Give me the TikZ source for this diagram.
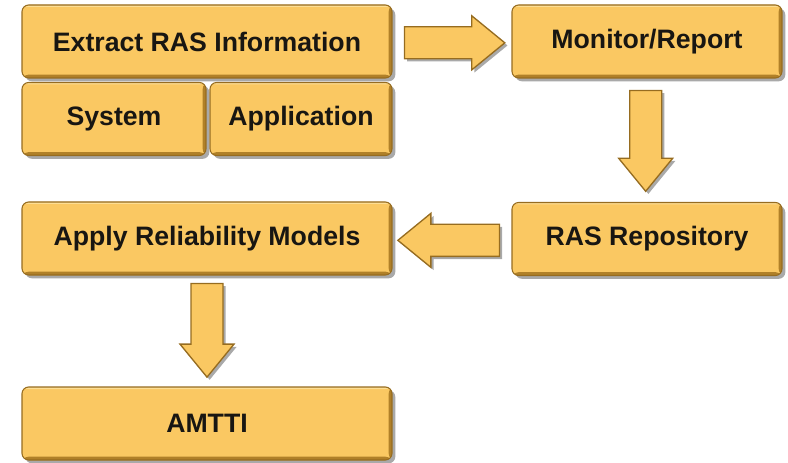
\documentclass[tikz,border=0pt]{standalone}
\usepackage{fontspec}
\setmainfont{Liberation Sans}
\usepackage{xcolor}
\usepackage{tikz}
\usetikzlibrary{calc,shadows}
\definecolor{boxfill}{RGB}{250,200,98}
\definecolor{boxrim}{RGB}{150,108,32}
\definecolor{boxshade}{RGB}{176,128,40}
\definecolor{boxlight}{RGB}{253,222,148}
\definecolor{inktext}{RGB}{24,22,18}
\newcommand{\fatarrow}[3]{%   block arrow: tail #1, tip #2, pointing at angle #3
  \path[fatarr, shift={(#1)}, rotate=#3] let \p1=($(#2)-(#1)$), \n1={veclen(\x1,\y1)} in
    (0,-12pt) -- ({\n1-24.75pt},-12pt) -- ({\n1-24.75pt},-20.25pt) -- (\n1,0)
    -- ({\n1-24.75pt},20.25pt) -- ({\n1-24.75pt},12pt) -- (0,12pt) -- cycle;}

\begin{document}
\begin{tikzpicture}[x=0.75pt, y=0.75pt,
    box/.style={draw=boxrim, line width=0.8pt, fill=boxfill, rounded corners=5pt,
      minimum height=54.75pt, inner sep=0pt, text=inktext,
      font=\fontsize{20}{24}\selectfont\bfseries,
      path picture={%
        \fill[boxlight] (path picture bounding box.north west) rectangle ([yshift=-1.5pt]path picture bounding box.north east);
        \fill[boxshade] (path picture bounding box.south west) rectangle ([yshift=2.5pt]path picture bounding box.south east);
        \fill[boxshade] ([xshift=-2.5pt]path picture bounding box.south east) rectangle (path picture bounding box.north east);},
      drop shadow={shadow xshift=2.5pt, shadow yshift=-2.5pt, opacity=0.45, fill=black!75}},
    wide/.style={box, minimum width=277.5pt},
    mid/.style={box, minimum width=202.5pt},
    fatarr/.style={fill=boxfill, draw=boxrim, line width=1pt, line join=miter,
      drop shadow={shadow xshift=2pt, shadow yshift=-2pt, opacity=0.45, fill=black!75}}]
\useasboundingbox (0,0) rectangle (788,-463);

% ---- left column
\node[wide] (extract) at (207,-41.5) {Extract RAS Information};
\node[box, minimum width=138pt] (system) at (114,-119) {System};
\node[box, minimum width=136.5pt] (application) at (301,-119) {Application};
\node[wide] (apply) at (207,-238.5) {Apply Reliability Models};
\node[wide] (amtti) at (207,-423.5) {AMTTI};

% ---- right column
\node[mid] (monitor) at (647,-41.5) {Monitor/Report};
\node[mid] (repo) at (647,-239) {RAS Repository};

% ---- block arrows
\coordinate (a1) at ([xshift=9pt,yshift=-1pt]extract.east);
\coordinate (b1) at ([xshift=-5pt,yshift=-1pt]monitor.west);
\coordinate (a2) at ([xshift=-1pt,yshift=-9pt]monitor.south);
\coordinate (b2) at ([xshift=-1pt,yshift=8pt]repo.north);
\coordinate (a3) at ([xshift=-9pt,yshift=-1pt]repo.west);
\coordinate (b3) at ([xshift=4pt,yshift=-1pt]apply.east);
\coordinate (a4) at ([yshift=-6pt]apply.south);
\coordinate (b4) at ([yshift=7pt]amtti.north);
\fatarrow{a1}{b1}{0}
\fatarrow{a2}{b2}{-90}
\fatarrow{a3}{b3}{180}
\fatarrow{a4}{b4}{-90}
\end{tikzpicture}
\end{document}
